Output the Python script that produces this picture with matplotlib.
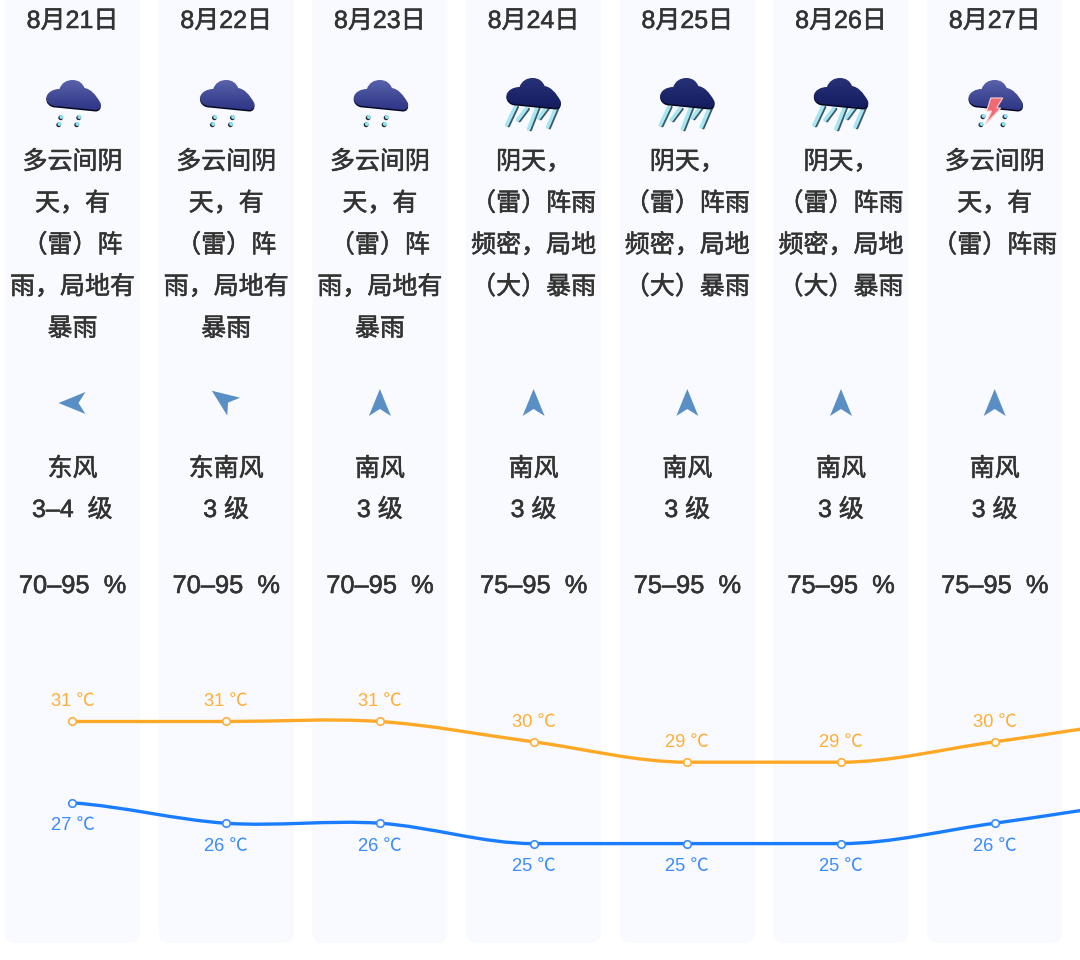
#7日間の天気予報パネル
import numpy as np
import matplotlib
matplotlib.use('Agg')
import matplotlib.pyplot as plt
import matplotlib.patches as patches
import matplotlib.patheffects as pe
from matplotlib.path import Path

plt.rcParams['font.family'] = ['Liberation Sans', 'Noto Sans CJK SC', 'DejaVu Sans']

#データ
dates = ['8月21日', '8月22日', '8月23日', '8月24日', '8月25日', '8月26日', '8月27日']
icons = ['shower', 'shower', 'shower', 'heavy', 'heavy', 'heavy', 'storm']
weather = [
    ['多云间阴', '天，有', '（雷）阵', '雨，局地有', '暴雨'],
    ['多云间阴', '天，有', '（雷）阵', '雨，局地有', '暴雨'],
    ['多云间阴', '天，有', '（雷）阵', '雨，局地有', '暴雨'],
    ['阴天，', '（雷）阵雨', '频密，局地', '（大）暴雨'],
    ['阴天，', '（雷）阵雨', '频密，局地', '（大）暴雨'],
    ['阴天，', '（雷）阵雨', '频密，局地', '（大）暴雨'],
    ['多云间阴', '天，有', '（雷）阵雨'],
]
wind_bearing = [270, 306, 0, 0, 0, 0, 0]
wind_dir = ['东风', '东南风', '南风', '南风', '南风', '南风', '南风']
wind_level = ['3–4  级', '3 级', '3 级', '3 级', '3 级', '3 级', '3 级']
humidity = ['70–95  %', '70–95  %', '70–95  %', '75–95  %', '75–95  %', '75–95  %', '75–95  %']
#最後の1点は画面の外(右端で切れる)
temp_high = [31, 31, 31, 30, 29, 29, 30, 31]
temp_low = [27, 26, 26, 25, 25, 25, 26, 27]

W, H = 1080, 960
X0, STEP = 72.5, 153.7
TEXT_C = '#333333'
HIGH_C, HIGH_T = '#FFA826', '#FFAE36'
LOW_C, LOW_T = '#1A7DFF', '#3A8BFF'

fig = plt.figure(figsize=(W / 100, H / 100), dpi=100, facecolor='white')
#レイアウト用(ピクセル座標)
ax = fig.add_axes([0, 0, 1, 1])
ax.set_xlim(0, W)
ax.set_ylim(H, 0)
ax.axis('off')

#文字を少し太くする
heavy = [pe.withStroke(linewidth=0.4, foreground=TEXT_C)]

def label(x, y, s, size=18):
    ax.text(x, y, s, ha='center', va='center', fontsize=size, color=TEXT_C, path_effects=heavy)

#雲の輪郭
def cloud_path(cx, cy, dy=0.0):
    pts = [(-18, 11),
           (-24, 11), (-28, 6), (-27, 2),
           (-26, -3), (-20, -6), (-14, -6),
           (-12, -12), (-7, -15), (-1, -15),
           (5, -15), (9, -12), (11, -7),
           (17, -6), (22, -1), (27, 8),
           (28, 12), (26, 15), (22, 15),
           (-18, 11)]
    codes = [Path.MOVETO] + [Path.CURVE4] * 18 + [Path.CLOSEPOLY]
    v = np.array(pts, dtype=float) + [cx, cy + dy]
    return Path(v, codes)

def draw_cloud(cx, cy, top, bottom):
    ax.add_patch(patches.PathPatch(cloud_path(cx, cy, 1.5), fc='#05081f', ec='none', zorder=3))
    c0 = np.array(matplotlib.colors.to_rgb(top))
    c1 = np.array(matplotlib.colors.to_rgb(bottom))
    t = np.linspace(0, 1, 64)[:, None]
    grad = (c0 * (1 - t) + c1 * t)[:, None, :]
    im = ax.imshow(grad, extent=[cx - 30, cx + 30, cy + 16, cy - 16], aspect='auto', zorder=4)
    im.set_clip_path(patches.PathPatch(cloud_path(cx, cy), transform=ax.transData))

def draw_drop(x, y):
    ax.add_patch(patches.Circle((x - 0.8, y + 0.8), 2.4, fc='#1c2b3c', ec='none', zorder=2))
    ax.add_patch(patches.Circle((x, y), 2.0, fc='#8fe0f2', ec='none', zorder=3))

def draw_icon(kind, cx):
    if kind == 'shower':
        draw_cloud(cx + 1, 95, '#5a63ab', '#2c3484')
        for dx in (-13, 5):
            draw_drop(cx + dx + 2, 117)
            draw_drop(cx + dx, 124)
    elif kind == 'heavy':
        for dx, y0, y1 in ((-17, 106, 125), (-6, 108, 120), (5, 106, 129), (15, 106, 118), (24, 106, 127)):
            ax.plot([cx + dx + 1, cx + dx - 8], [y0 + 1, y1 + 1], color='#3c5868', lw=2.0, zorder=2, solid_capstyle='round')
            ax.plot([cx + dx - 1, cx + dx - 10], [y0, y1], color='#a6e6f2', lw=2.6, zorder=2, solid_capstyle='round')
        draw_cloud(cx, 93, '#283276', '#141c60')
    else:
        draw_cloud(cx + 1, 95, '#5a63ab', '#2c3484')
        for dx in (-13, 9):
            draw_drop(cx + dx + 2, 116)
            draw_drop(cx + dx, 124)
        bolt = [(cx - 4, 98), (cx + 8, 98), (cx + 2, 108), (cx + 6, 108), (cx - 9, 124), (cx - 3, 111), (cx - 8, 111)]
        ax.add_patch(patches.Polygon(bolt, fc='#ef6a74', ec='#fbd0d0', lw=0.8, zorder=5))

#風向(矢印の先がbearingの方向、0で上向き)
def draw_arrow(cx, cy, bearing):
    shape = np.array([(0, -14), (11, 13), (0, 6), (-11, 13)], dtype=float)
    r = np.deg2rad(bearing)
    rot = np.array([[np.cos(r), -np.sin(r)], [np.sin(r), np.cos(r)]])
    if bearing % 90:
        cx, cy = cx - 3, cy - 4
    ax.add_patch(patches.Polygon(shape @ rot.T + [cx, cy], fc='#5a8fc5', ec='none', zorder=3))

for i, date in enumerate(dates):
    cx = X0 + STEP * i
    ax.add_patch(patches.FancyBboxPatch((cx - 67.5, -20), 135, 963,
                                        boxstyle='round,pad=0,rounding_size=11',
                                        fc='#F8FAFF', ec='none', zorder=1))
    label(cx, 21, date)
    draw_icon(icons[i], cx)
    for j, line in enumerate(weather[i]):
        label(cx, 162 + 41.7 * j, line)
    draw_arrow(cx, 403, wind_bearing[i])
    label(cx, 469, wind_dir[i])
    label(cx, 510, wind_level[i])
    label(cx, 586, humidity[i], size=18.3)

#気温(日番号と℃の軸)
DEG = 20.35
tx = fig.add_axes([0, 0, 1, 1], facecolor='none')
tx.set_xlim(-X0 / STEP, (W - X0) / STEP)
tx.set_ylim(31 - (H - 721.5) / DEG, 31 + 721.5 / DEG)
tx.axis('off')

#折れ線をなめらかにする(Catmull-Rom)、flatの点は接線を水平にする
def smooth_path(y, flat):
    p = np.column_stack([np.arange(len(y)), y]).astype(float)
    tan = np.zeros(len(p))
    for k in range(len(p)):
        if k not in flat:
            tan[k] = (p[min(k + 1, len(p) - 1), 1] - p[max(k - 1, 0), 1]) / 2
    verts = [p[0]]
    codes = [Path.MOVETO]
    for k in range(len(p) - 1):
        verts += [p[k] + [1 / 3, tan[k] / 3], p[k + 1] - [1 / 3, tan[k + 1] / 3], p[k + 1]]
        codes += [Path.CURVE4] * 3
    return Path(np.array(verts), codes)

def draw_series(vals, line_c, text_c, offset, flat):
    tx.add_patch(patches.PathPatch(smooth_path(vals, flat), fc='none', ec=line_c, lw=2.4, zorder=5))
    xs = np.arange(len(vals))
    tx.plot(xs, vals, ls='none', marker='o', ms=5.4, mfc='white', mec=text_c, mew=1.2, zorder=6)
    for x, v in zip(xs, vals):
        tx.annotate(f'{v} ℃', (x, v), xytext=(0, offset), textcoords='offset points',
                    ha='center', va='center', fontsize=13.2, color=text_c, annotation_clip=True)

draw_series(temp_high, HIGH_C, HIGH_T, 14.2, flat=[4, 5])
draw_series(temp_low, LOW_C, LOW_T, -16.5, flat=[3, 4, 5])

plt.savefig('out.png', dpi=100)
